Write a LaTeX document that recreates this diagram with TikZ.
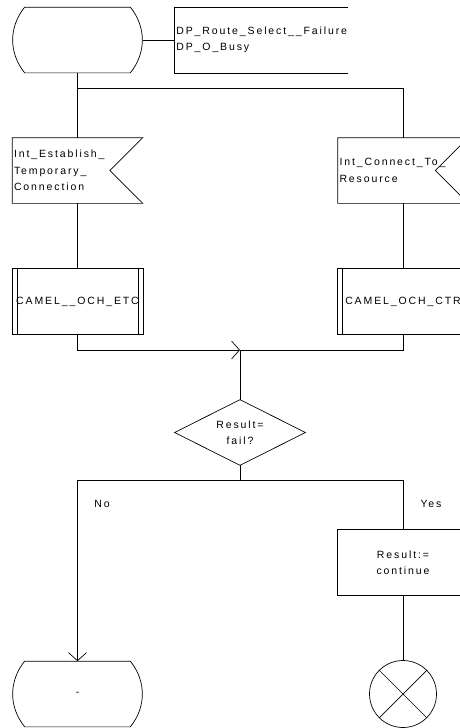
\documentclass[tikz,border=0pt]{standalone}
\usepackage{fontspec}
\setmainfont{Liberation Sans}[LetterSpace=18]
\usetikzlibrary{arrows.meta}
\begin{document}
\begin{tikzpicture}[x=1pt,y=-1pt,
  line width=0.7pt,
  every node/.style={font=\fontsize{10.5}{16.5}\selectfont, inner sep=0pt},
  box/.style={minimum width=130pt, minimum height=65pt, align=center},
  inbox/.style={box, text width=127pt, align=left},
  sdlarrow/.style={-{Straight Barb[length=8pt,width=18pt]}}
]
\useasboundingbox (0,0) rectangle (460,728);
\clip (0,0) rectangle (460,728);

% nodes
\node[box] (start) at (77.5,40) {};
\node[anchor=west, align=left] (cmtxt) at (176,40) {DP\_Route\_Select\_\_Failure\\DP\_O\_Busy};
\coordinate (cm) at (174,40);
\node[inbox] (in1) at (77.5,170.5) {Int\_Establish\_\\Temporary\_\\Connection};
\node[inbox] (in2) at (403,170.5) {Int\_Connect\_To\_\\Resource};
\node[box] (p1) at (77.5,301.5) {CAMEL\_\_OCH\_ETC};
\node[box] (p2) at (403,301.5) {CAMEL\_OCH\_CTR};
\node[box] (dec) at (240,432.5) {Result=\\fail?};
\node[box] (task) at (403,562.5) {Result:=\\continue};
\node[box] (end1) at (77.5,694) {-};
\node[circle, draw, minimum size=67pt] (stop) at (403,694) {};
\node (no) at (102,504) {No};
\node (yes) at (431,504) {Yes};
\coordinate (j1) at (77.5,88);
\coordinate (j2) at (240,350);
\coordinate (j3) at (240,480);

% state outlines
\foreach \s in {start,end1}{
  \draw ([xshift=12.5pt]\s.north west) -- ([xshift=-12.5pt]\s.north east)
    .. controls +(16,20) and +(16,-20) .. ([xshift=-12.5pt]\s.south east)
    -- ([xshift=12.5pt]\s.south west)
    .. controls +(-16,-20) and +(-16,20) .. ([xshift=12.5pt]\s.north west);
}
% comment bracket
\draw (start.east) -- (cm);
\draw (348,7) -- (174,7) -- (174,73) -- (348,73);

% input symbols
\foreach \s in {in1,in2}{
  \draw (\s.north west) -- (\s.north east) -- ([xshift=-33pt]\s.east) -- (\s.south east) -- (\s.south west) -- cycle;
}
% procedure boxes
\foreach \s in {p1,p2}{
  \draw (\s.north west) rectangle (\s.south east);
  \draw ([xshift=5pt]\s.north west) -- ([xshift=5pt]\s.south west);
  \draw ([xshift=-5pt]\s.north east) -- ([xshift=-5pt]\s.south east);
}
% decision
\draw (dec.north) -- (dec.east) -- (dec.south) -- (dec.west) -- cycle;
% task
\draw (task.north west) rectangle (task.south east);
% stop cross
\draw (stop.north west) -- (stop.south east);
\draw (stop.north east) -- (stop.south west);

% connectors
\draw (start.south) -- (in1.north);
\draw (j1) -| (in2.north);
\draw (in1.south) -- (p1.north);
\draw (in2.south) -- (p2.north);
\draw[sdlarrow] (p1.south) |- (j2);
\draw (p2.south) |- (j2);
\draw (j2) -- (dec.north);
\draw (dec.south) -- (j3);
\draw[sdlarrow] (j3) -| (end1.north);
\draw (j3) -| (task.north);
\draw (task.south) -- (stop.north);
\end{tikzpicture}
\end{document}
